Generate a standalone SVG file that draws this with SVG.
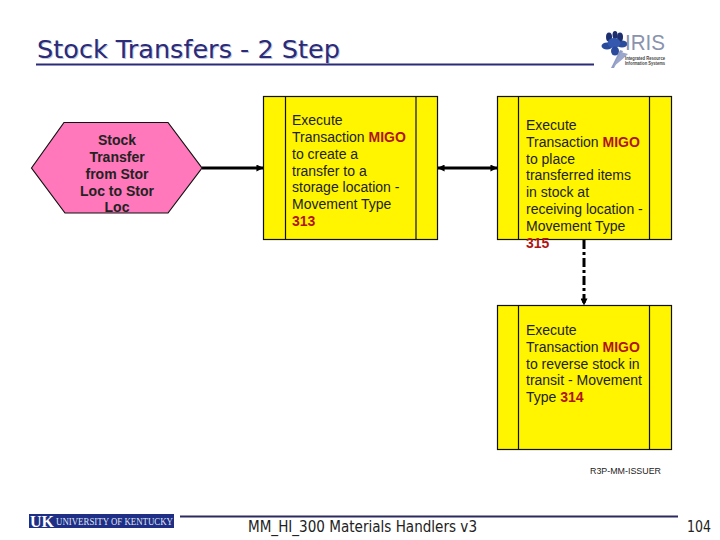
<svg xmlns="http://www.w3.org/2000/svg" width="720" height="540" viewBox="0 0 720 540">
<style>
.box{fill:#fff500;stroke:#111;stroke-width:1.2}
.t{font-family:"Liberation Sans",Arial,sans-serif;font-size:14px;fill:#222}
.r{fill:#b01414;font-weight:bold}
.h{font-family:"Liberation Sans",Arial,sans-serif;font-size:14px;font-weight:bold;fill:#222;text-anchor:middle}
.ti{font-family:"DejaVu Sans",Verdana,sans-serif;font-size:24px}
.f{font-family:"DejaVu Sans",Verdana,sans-serif;font-size:15px;fill:#222}
.c{fill:none;stroke:#000;stroke-width:3}
</style>
<defs>
<marker id="a" viewBox="0 0 8 8" refX="7.5" refY="4" markerWidth="7" markerHeight="7" markerUnits="userSpaceOnUse" orient="auto-start-reverse"><path d="M0 0L8 4L0 8Z" fill="#000"/></marker>
</defs>
<rect width="720" height="540" fill="#fff"/>
<g id="title">
<text class="ti" x="38" y="59" fill="#c4c8dc" textLength="303" lengthAdjust="spacingAndGlyphs">Stock Transfers - 2 Step</text>
<text class="ti" x="37" y="58" fill="#2b2b78" textLength="303" lengthAdjust="spacingAndGlyphs">Stock Transfers - 2 Step</text>
<rect x="36" y="63.500" width="558" height="2" fill="#2b2b78"/>
</g>
<g id="iris-logo">
<path d="M611 68L620 50L623 51L614 68Z" fill="#8f9cc4"/>
<path d="M613 67Q622 60 628 54L621 52Z" fill="#9aa6cc"/>
<ellipse cx="607" cy="46" rx="5.500" ry="3.500" fill="#2a4a9c"/>
<ellipse cx="622" cy="44" rx="5.500" ry="3.500" fill="#2a4a9c"/>
<ellipse cx="609" cy="37" rx="3" ry="4.500" fill="#1e2f70"/>
<ellipse cx="615" cy="35" rx="2.500" ry="4" fill="#1e2f70"/>
<ellipse cx="620" cy="37" rx="3" ry="4.500" fill="#1e2f70"/>
<ellipse cx="614" cy="43" rx="6.500" ry="5" fill="#3458ae"/>
<ellipse cx="615" cy="51" rx="4" ry="4.500" fill="#2a4a9c"/>
<text x="625" y="50" font-family="'Liberation Sans',Arial,sans-serif" font-size="22" fill="#8a93ad" textLength="40" lengthAdjust="spacingAndGlyphs">IRIS</text>
<text x="625" y="59.500" font-family="'Liberation Sans',Arial,sans-serif" font-size="5" font-weight="bold" fill="#444" textLength="40" lengthAdjust="spacingAndGlyphs">Integrated Resource</text>
<text x="625" y="65" font-family="'Liberation Sans',Arial,sans-serif" font-size="5" font-weight="bold" fill="#444" textLength="40" lengthAdjust="spacingAndGlyphs">Information Systems</text>
</g>
<g id="connectors">
<path class="c" d="M202 168H263" marker-end="url(#a)"/>
<path class="c" d="M438 168H497" marker-start="url(#a)" marker-end="url(#a)"/>
<path class="c" d="M584 240V305" stroke-dasharray="9 3 3 3" marker-end="url(#a)"/>
</g>
<g id="start-event">
<path d="M31.500 168L64 122.500H168L202 168L168 213H65Z" fill="#ff78bb" stroke="#111" stroke-width="1.200"/>
<text class="h" x="117" y="145">Stock</text>
<text class="h" x="117" y="162">Transfer</text>
<text class="h" x="117" y="179">from Stor</text>
<text class="h" x="117" y="196">Loc to Stor</text>
<text class="h" x="117" y="212">Loc</text>
</g>
<g id="step-313">
<rect class="box" x="263.500" y="96.500" width="174" height="143"/>
<path class="box" d="M285.500 96.500V239.500M416 96.500V239.500"/>
<text class="t" x="292" y="125">Execute</text>
<text class="t" x="292" y="142">Transaction <tspan class="r">MIGO</tspan></text>
<text class="t" x="292" y="159">to create a</text>
<text class="t" x="292" y="176">transfer to a</text>
<text class="t" x="292" y="192">storage location -</text>
<text class="t" x="292" y="209">Movement Type</text>
<text class="t r" x="292" y="226">313</text>
</g>
<g id="step-315">
<rect class="box" x="497.500" y="96.500" width="174" height="143"/>
<path class="box" d="M518.500 96.500V239.500M649.500 96.500V239.500"/>
<text class="t" x="526" y="130">Execute</text>
<text class="t" x="526" y="147">Transaction <tspan class="r">MIGO</tspan></text>
<text class="t" x="526" y="164">to place</text>
<text class="t" x="526" y="180">transferred items</text>
<text class="t" x="526" y="197">in stock at</text>
<text class="t" x="526" y="214">receiving location -</text>
<text class="t" x="526" y="231">Movement Type</text>
<text class="t r" x="526" y="248">315</text>
</g>
<g id="step-314">
<rect class="box" x="497.500" y="305.500" width="174" height="144"/>
<path class="box" d="M518.500 305.500V449.500M649.500 305.500V449.500"/>
<text class="t" x="526" y="335">Execute</text>
<text class="t" x="526" y="352">Transaction <tspan class="r">MIGO</tspan></text>
<text class="t" x="526" y="369">to reverse stock in</text>
<text class="t" x="526" y="385">transit - Movement</text>
<text class="t" x="526" y="402">Type <tspan class="r">314</tspan></text>
</g>
<g id="role-label">
<text x="590" y="474" font-family="'Liberation Sans',Arial,sans-serif" font-size="8.500" fill="#222" textLength="71" lengthAdjust="spacingAndGlyphs">R3P-MM-ISSUER</text>
</g>
<g id="footer">
<rect x="29" y="514" width="145" height="14" fill="#1f2f86"/>
<text x="30" y="527" font-family="'Liberation Serif',serif" font-size="16" font-weight="bold" fill="#fff">UK</text>
<text x="56" y="525" font-family="'Liberation Serif',serif" font-size="9.500" fill="#dfe3f2" textLength="117" lengthAdjust="spacingAndGlyphs">UNIVERSITY OF KENTUCKY</text>
<rect x="180" y="515.500" width="498" height="2" fill="#2b2b60"/>
<text class="f" x="248" y="532" textLength="229" lengthAdjust="spacingAndGlyphs">MM_HI_300 Materials Handlers v3</text>
<text class="f" x="687" y="532" textLength="24" lengthAdjust="spacingAndGlyphs">104</text>
</g>
</svg>
